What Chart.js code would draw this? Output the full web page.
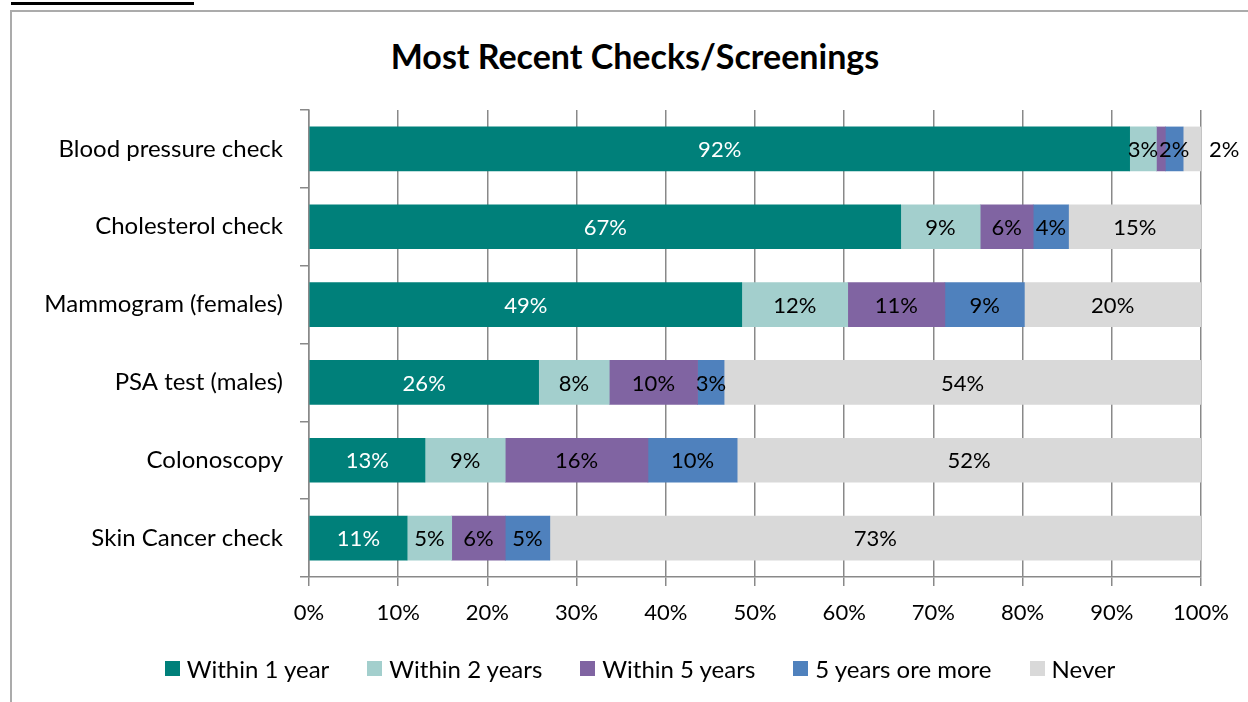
<!DOCTYPE html>
<html>
<head>
<meta charset="utf-8">
<title>Most Recent Checks/Screenings</title>
<script src="https://cdn.jsdelivr.net/npm/chart.js@4.4.1/dist/chart.umd.min.js"></script>
<style>
  html, body { margin: 0; padding: 0; background: #fff; overflow: hidden; }
  body { width: 1248px; height: 702px; position: relative; font-family: Lato, sans-serif; }
  .top-rule { position: absolute; left: 11px; top: 2px; width: 183px; height: 3px; background: #000; }
  .frame { position: absolute; left: 10px; top: 10px; width: 1300px; height: 700px;
           border-left: 2px solid #ababab; border-top: 2px solid #ababab; }
  .chart-title { position: absolute; left: 0; top: 36px; width: 1270px; text-align: center;
                 font-size: 34px; line-height: 40px; font-weight: bold; color: #000; }
  #chartWrap { position: absolute; left: 12px; top: 12px; width: 1248px; height: 690px; }
  .legend { position: absolute; left: 0; top: 654px; width: 1280px; display: flex;
            justify-content: center; gap: 38px; font-size: 24px; color: #000; }
  .legend span.item { display: flex; align-items: center; white-space: nowrap; }
  .legend i { display: inline-block; width: 15px; height: 15px; margin-right: 7px; }
</style>
</head>
<body>
<div class="top-rule"></div>
<div class="frame"></div>
<div class="chart-title">Most Recent Checks/Screenings</div>
<div id="chartWrap"><canvas id="screenings-chart"></canvas></div>
<div class="legend" id="legend"></div>

<script>
// categories (top to bottom) and the percentages shown on the bars
const categories = [
  "Blood pressure check",
  "Cholesterol check",
  "Mammogram (females)",
  "PSA test (males)",
  "Colonoscopy",
  "Skin Cancer check",
];
const seriesNames = ["Within 1 year", "Within 2 years", "Within 5 years", "5 years ore more", "Never"];
const within1Year = [92, 67, 49, 26, 13, 11];
const within2Years = [3, 9, 12, 8, 9, 5];
const within5Years = [1, 6, 11, 10, 16, 6];
const fiveYearsOrMore = [2, 4, 9, 3, 10, 5];
const never = [2, 15, 20, 54, 52, 73];
const xTickStep = 10; // 0% .. 100%

const seriesValues = [within1Year, within2Years, within5Years, fiveYearsOrMore, never];
const colors = ["#00807a", "#a3cfcd", "#8064a2", "#4f81bd", "#d9d9d9"];
const labelColors = ["#ffffff", "#000000", "#000000", "#000000", "#000000"];

const FONT = "Lato, 'Open Sans', sans-serif";
const AXIS_GREY = "#898989";

// 100% stacked, like the spreadsheet: each row is scaled to its own total
const totals = categories.map((_, j) => seriesValues.reduce((s, arr) => s + arr[j], 0));
const asShare = (arr) => arr.map((v, j) => (v / totals[j]) * 100);

const segmentLabels = {
  id: "segmentLabels",
  afterDatasetsDraw(chart) {
    const ctx = chart.ctx;
    ctx.save();
    ctx.font = `22px ${FONT}`;
    ctx.textBaseline = "middle";
    chart.data.datasets.forEach((ds, i) => {
      const meta = chart.getDatasetMeta(i);
      meta.data.forEach((bar, j) => {
        const v = seriesValues[i][j];
        if (v < 1.5) return; // too thin, no label
        const txt = v + "%";
        const left = Math.min(bar.x, bar.base);
        const right = Math.max(bar.x, bar.base);
        const w = ctx.measureText(txt).width;
        let x = (left + right) / 2;
        ctx.textAlign = "center";
        if (i === chart.data.datasets.length - 1 && right - left < w) {
          // last segment too narrow: put it just past the bar end
          x = right + 8;
          ctx.textAlign = "left";
        }
        ctx.fillStyle = labelColors[i];
        ctx.fillText(txt, x, bar.y + 1);
      });
    });
    ctx.restore();
  },
};

const ctx = document.getElementById("screenings-chart");
new Chart(ctx, {
  type: "bar",
  data: {
    labels: categories,
    datasets: seriesNames.map((name, i) => ({
      label: name,
      data: asShare(seriesValues[i]),
      backgroundColor: colors[i],
      borderWidth: 0,
      barThickness: 44,
    })),
  },
  options: {
    indexAxis: "y",
    responsive: true,
    maintainAspectRatio: false,
    animation: false,
    layout: { padding: { left: 0, right: 59, top: 98, bottom: 65 } },
    plugins: {
      legend: { display: false },
      tooltip: { enabled: false },
      title: { display: false },
    },
    scales: {
      x: {
        type: "linear",
        stacked: true,
        min: 0,
        max: 100,
        ticks: {
          stepSize: xTickStep,
          callback: (v) => v + "%",
          color: "#000",
          font: { family: FONT, size: 22 },
          padding: 14,
        },
        grid: { color: AXIS_GREY, lineWidth: 1.5, tickLength: 9 },
        border: { color: AXIS_GREY, width: 1.5 },
        afterFit: (s) => { s.height = 60; },
      },
      y: {
        stacked: true,
        ticks: {
          color: "#000",
          font: { family: FONT, size: 24 },
          padding: 17,
        },
        grid: { offset: true, drawOnChartArea: false, tickLength: 9, color: AXIS_GREY, lineWidth: 1.5 },
        border: { color: AXIS_GREY, width: 1.5 },
        afterFit: (s) => { s.width = 297; },
      },
    },
  },
  plugins: [segmentLabels],
});

// legend built from the same series list
const legendEl = document.getElementById("legend");
seriesNames.forEach((name, i) => {
  const item = document.createElement("span");
  item.className = "item";
  item.innerHTML = `<i style="background:${colors[i]}"></i>${name}`;
  legendEl.appendChild(item);
});
</script>
</body>
</html>
